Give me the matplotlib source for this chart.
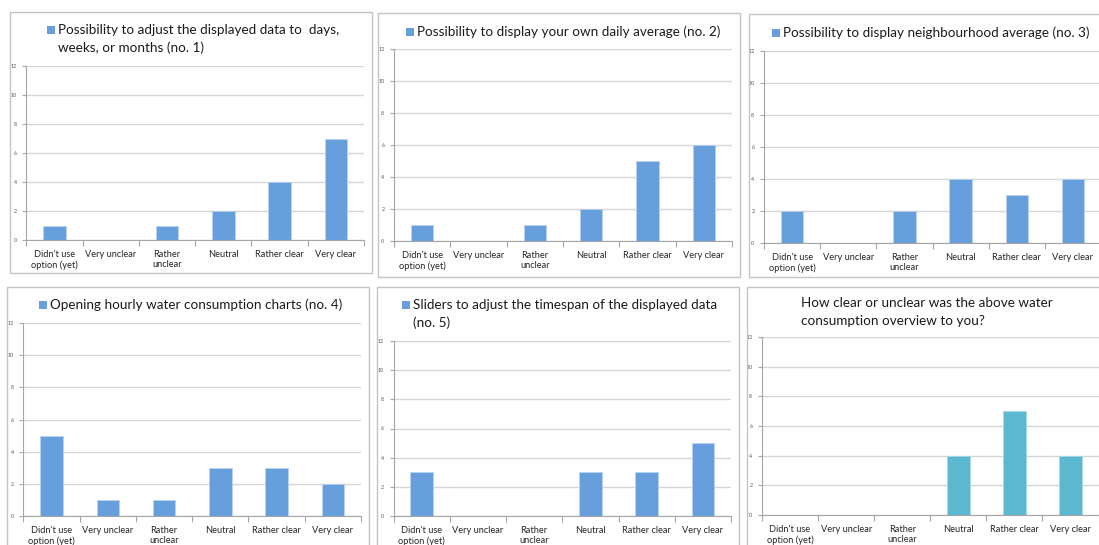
import matplotlib.pyplot as plt
from matplotlib.patches import Rectangle

plt.rcParams['font.family'] = ['Lato', 'DejaVu Sans']

W, H = 1099, 545

categories = ["Didn't use\noption (yet)", "Very unclear", "Rather\nunclear",
              "Neutral", "Rather clear", "Very clear"]
no1 = [1, 0, 1, 2, 4, 7]
no2 = [1, 0, 1, 2, 5, 6]
no3 = [2, 0, 2, 4, 3, 4]
no4 = [5, 1, 1, 3, 3, 2]
no5 = [3, 0, 0, 3, 3, 5]
overall = [0, 0, 0, 4, 7, 4]

titles = [
    "Possibility to adjust the displayed data to  days,\nweeks, or months (no. 1)",
    "Possibility to display your own daily average (no. 2)",
    "Possibility to display neighbourhood average (no. 3)",
    "Opening hourly water consumption charts (no. 4)",
    "Sliders to adjust the timespan of the displayed data\n(no. 5)",
    "How clear or unclear was the above water\nconsumption overview to you?",
]
yticks = [0, 2, 4, 6, 8, 10, 12]

BLUE = '#679FDC'
TEAL = '#5CB8CE'

# pixel layout: frame box, plot area, title anchor (x, y of first line centre), legend swatch
panels = [
    dict(vals=no1, box=(10, 12.5, 372, 273.5), ax=(26.4, 66, 364, 240),
         title=(58, 30), swatch=True, color=BLUE),
    dict(vals=no2, box=(378, 13, 740, 277), ax=(394, 49, 732, 241),
         title=(417, 32), swatch=True, color=BLUE),
    dict(vals=no3, box=(748.5, 14, 1110, 277), ax=(764, 51, 1101, 243),
         title=(783, 33), swatch=True, color=BLUE),
    dict(vals=no4, box=(7, 287, 369, 560), ax=(23.4, 323, 361, 516),
         title=(50, 305), swatch=True, color=BLUE),
    dict(vals=no5, box=(377, 287, 739, 560), ax=(393.5, 341, 731, 516),
         title=(413, 305), swatch=True, color=BLUE),
    dict(vals=overall, box=(746.5, 287, 1110, 560), ax=(762, 337, 1098.6, 515),
         title=(801, 303), swatch=False, color=TEAL),
]

fig = plt.figure(figsize=(W / 100, H / 100), dpi=100)
fig.patch.set_facecolor('white')


def fx(px):
    return px / W


def fy(py):
    return 1 - py / H


for p, title in zip(panels, titles):
    l, t, r, b = p['box']
    fig.patches.append(Rectangle((fx(l), fy(b)), fx(r - l), (b - t) / H,
                                 transform=fig.transFigure, fill=False,
                                 edgecolor='#C4C4C4', linewidth=1.0, zorder=0))

    al, at, ar, ab = p['ax']
    ax = fig.add_axes([fx(al), fy(ab), fx(ar - al), (ab - at) / H])
    x = list(range(len(categories)))
    ax.bar(x, p['vals'], width=0.4, color=p['color'],
           edgecolor='#B8D2F0' if p['color'] == BLUE else '#A8DAE6',
           linewidth=0.6, zorder=3)
    ax.set_xlim(-0.5, 5.5)
    ax.set_ylim(0, 12)
    ax.set_yticks(yticks)
    ax.set_yticklabels([str(v) for v in yticks], fontsize=3.8, color='#555555')
    ax.yaxis.grid(True, color='#D6D6D6', linewidth=1.0, zorder=0)
    ax.set_axisbelow(True)

    # category boundaries get tick marks, labels sit at the centres
    ax.set_xticks([i - 0.5 for i in range(7)])
    ax.set_xticklabels([])
    ax.set_xticks(x, minor=True)
    ax.set_xticklabels(categories, minor=True, fontsize=6.7, color='#262626',
                       linespacing=1.25)
    ax.tick_params(axis='x', which='major', length=4, color='#A6A6A6', width=0.8)
    ax.tick_params(axis='x', which='minor', length=0, pad=7)
    ax.tick_params(axis='y', length=3, color='#A6A6A6', width=0.8, pad=4)

    for side in ('top', 'right'):
        ax.spines[side].set_visible(False)
    for side in ('left', 'bottom'):
        ax.spines[side].set_color('#A6A6A6')
        ax.spines[side].set_linewidth(0.8)

    tx, ty = p['title']
    if p['swatch']:
        fig.patches.append(Rectangle((fx(tx - 11), fy(ty + 4)), fx(8), 8 / H,
                                     transform=fig.transFigure,
                                     facecolor=BLUE, edgecolor='none'))
    for k, line in enumerate(title.split('\n')):
        fig.text(fx(tx), fy(ty + 18 * k), line, fontsize=9.7,
                 color='#1A1A1A', ha='left', va='center')

fig.savefig('out.png', dpi=100)
